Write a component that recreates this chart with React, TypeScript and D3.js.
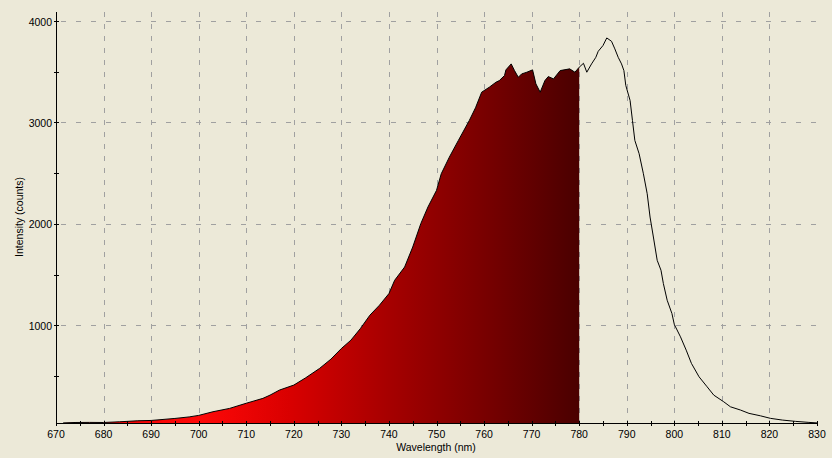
import React from "react";
import * as d3 from "d3";

const wavelengths = [
  671.5, 674, 677, 680, 683.4, 687.2, 690, 695, 698, 700, 703, 706.5, 710, 713.5, 715, 717, 720,
  722.5, 725.4, 727.8, 730, 732, 734, 736, 738, 740, 741.2, 743.3, 745, 746.7, 748.2, 750, 751,
  752.7, 754.6, 756.9, 758.2, 759.5, 761.1, 762.5, 763.2, 764.3, 764.6, 765.7, 766.4, 767.2,
  767.9, 769, 770.2, 770.9, 771.8, 772.8, 773.5, 774.6, 776, 778, 779.1, 780, 780.9, 781.6,
  782.6, 783.5, 784, 785, 785.8, 786.8, 787.5, 788.2, 788.9, 789.4, 789.8, 790.7, 791.2, 791.7,
  792.6, 793.5, 794.3, 794.9, 795.6, 796.4, 797.2, 797.7, 798.5, 799.5, 800, 801.3, 802.5,
  803.6, 805.2, 806.9, 808.3, 810.4, 811.8, 813.9, 815.7, 818.1, 820.2, 822.7, 825.5, 828.3, 830,
];
const counts = [
  36, 40, 41, 40, 47, 57, 60, 80, 95, 110, 146, 179, 230, 278, 310, 360, 409,
  481, 573, 665, 770, 852, 967, 1099, 1197, 1312, 1443, 1574, 1771, 2002, 2166, 2330, 2494,
  2658, 2823, 3020, 3145, 3299, 3348, 3397, 3413, 3463, 3519, 3578, 3512, 3446,
  3479, 3496, 3519, 3381, 3299, 3414, 3453, 3430, 3512, 3529, 3496, 3545, 3584, 3496,
  3578, 3643, 3702, 3759, 3834, 3801, 3726, 3643, 3578, 3512, 3365, 3217, 3020, 2823,
  2692, 2494, 2297, 2067, 1870, 1640, 1542, 1411, 1246, 1115, 1007, 885, 754,
  623, 491, 392, 310, 244, 195, 163, 130, 106, 81, 64, 51, 41, 36,
];
const xTickLabels = [670, 680, 690, 700, 710, 720, 730, 740, 750, 760, 770, 780, 790, 800, 810, 820, 830];
const yTickLabels = [1000, 2000, 3000, 4000];
const fillEnd = 780;

const W = 832;
const H = 458;
const left = 56;
const right = 817;
const top = 12;
const bottom = 423;
const FONT = "'Liberation Sans', Arial, sans-serif";

export default function App() {
  const x = d3.scaleLinear().domain([670, 830]).range([left, right]);
  const y = d3.scaleLinear().domain([35, 4090]).range([bottom, top]);
  const data = wavelengths.map((w, i) => ({ w, v: counts[i] }));
  const fillData = data.filter((d) => d.w <= fillEnd);
  const line = d3.line<{ w: number; v: number }>().x((d) => x(d.w)).y((d) => y(d.v));
  const area = d3
    .area<{ w: number; v: number }>()
    .x((d) => x(d.w))
    .y0(bottom)
    .y1((d) => y(d.v));
  const minorX = d3.range(670, 831, 5);
  const minorY = d3.range(500, 4001, 500);
  const gridX = xTickLabels.filter((t) => t > 670 && t < 830);

  return (
    <svg
      width={W}
      height={H}
      style={{ position: "absolute", left: 0, top: 0, display: "block" }}
    >
      <defs>
        <linearGradient id="spec" gradientUnits="userSpaceOnUse" x1={x(670)} x2={x(780)} y1={0} y2={0}>
          <stop offset="0%" stopColor="#e80000" />
          <stop offset="27%" stopColor="#ff0808" />
          <stop offset="45%" stopColor="#d80000" />
          <stop offset="64%" stopColor="#a50000" />
          <stop offset="82%" stopColor="#780000" />
          <stop offset="100%" stopColor="#4a0000" />
        </linearGradient>
      </defs>
      <rect x={0} y={0} width={W} height={H} fill="#ECE9D8" />
      {gridX.map((t) => (
        <line
          key={"gx" + t}
          x1={Math.round(x(t)) + 0.5}
          x2={Math.round(x(t)) + 0.5}
          y1={top}
          y2={bottom}
          stroke="#a0a0a0"
          strokeDasharray="5,7"
        />
      ))}
      {yTickLabels.map((t) => (
        <line
          key={"gy" + t}
          x1={left}
          x2={right}
          y1={Math.round(y(t)) + 0.5}
          y2={Math.round(y(t)) + 0.5}
          stroke="#a0a0a0"
          strokeDasharray="5,10"
          strokeDashoffset={-5}
        />
      ))}
      <path d={area(fillData) || ""} fill="url(#spec)" />
      <path d={line(data) || ""} fill="none" stroke="#000" strokeWidth={1} />
      <line x1={left + 0.5} x2={left + 0.5} y1={top} y2={bottom} stroke="#000" />
      <line x1={left} x2={right + 1} y1={bottom + 0.5} y2={bottom + 0.5} stroke="#000" />
      {minorX.map((t) => (
        <line
          key={"tx" + t}
          x1={Math.round(x(t)) + 0.5}
          x2={Math.round(x(t)) + 0.5}
          y1={bottom - 2}
          y2={bottom + 3}
          stroke="#000"
        />
      ))}
      {minorY.map((t) => (
        <line
          key={"ty" + t}
          x1={left - 2}
          x2={left + 3}
          y1={Math.round(y(t)) + 0.5}
          y2={Math.round(y(t)) + 0.5}
          stroke="#000"
        />
      ))}
      {xTickLabels.map((t) => (
        <text
          key={"lx" + t}
          x={x(t)}
          y={438}
          textAnchor="middle"
          fontFamily={FONT}
          fontSize={10.5}
          fill="#000"
        >
          {t}
        </text>
      ))}
      {yTickLabels.map((t) => (
        <text
          key={"ly" + t}
          x={52}
          y={y(t) + 4.5}
          textAnchor="end"
          fontFamily={FONT}
          fontSize={10.5}
          fill="#000"
        >
          {t}
        </text>
      ))}
      <text x={436} y={451} textAnchor="middle" fontFamily={FONT} fontSize={10.5} fill="#000">
        Wavelength (nm)
      </text>
      <text
        transform={`translate(23,217) rotate(-90)`}
        textAnchor="middle"
        fontFamily={FONT}
        fontSize={10.5}
        fill="#000"
      >
        Intensity (counts)
      </text>
    </svg>
  );
}
